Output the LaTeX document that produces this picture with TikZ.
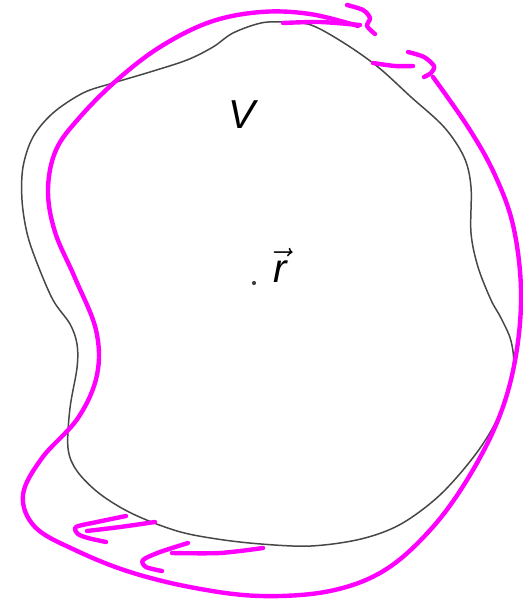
\documentclass[tikz,border=0pt]{standalone}
\usepackage{fontspec}
\newfontfamily\labelfont{Liberation Sans}
\definecolor{inkpink}{RGB}{255,0,255}
\begin{document}
\begin{tikzpicture}[x=0.02cm,y=-0.02cm,
    surface/.style={draw=black!72,line width=0.85pt},
    pen/.style={draw=inkpink,line width=2.5pt,line cap=round,line join=round}]
  \useasboundingbox (0,0) rectangle (522,602);

  % Volume

  \draw[surface] plot[smooth cycle,tension=0.55] coordinates {
    (261,23) (284,22) (311,25) (344,43) (378,67) (411,97) (444,127) (464,157)
    (471,187) (471,233) (478,267) (491,300) (501,318) (511,341) (513,368)
    (501,411) (478,451) (441,494) (401,524) (361,539) (311,546) (261,544)
    (217,539) (177,531) (133,514) (100,494) (77,471) (68,448) (70,408)
    (77,368) (77,344) (70,324) (53,300) (37,263) (27,233) (22,200) (23,167)
    (33,137) (53,113) (83,93) (113,83) (150,72) (187,60) (213,47) (233,33)};

  \node[font=\labelfont\itshape\fontsize{23}{26}\selectfont,anchor=base] (vol) at (242,128) {V};

  \fill[black!75] (254,283) circle (2.1);
  \node[font=\labelfont\itshape\fontsize{23}{26}\selectfont,anchor=base] (pos) at (280,282) {$\vec{\hbox{\labelfont\itshape r}}$};

  % Loop

  \draw[pen] plot[smooth,tension=0.6] coordinates {
    (433,77) (468,127) (494,173) (513,225) (521,290) (516,355) (500,415)
    (470,475) (432,528) (385,570) (330,591) (261,596) (195,588) (130,572)
    (75,550) (35,527) (23,495) (42,458) (78,418) (97,375) (96,330)
    (75,278) (55,232) (48,190) (56,150) (80,117) (117,80) (160,47)
    (210,22) (261,12) (310,14) (358,26)};

  % arrows on the loop
  \draw[pen] plot[smooth] coordinates {(283,23) (320,22) (360,25)};
  \draw[pen] plot[smooth] coordinates {(347,5) (363,10) (370,18) (367,26) (375,34)};

  \draw[pen] plot[smooth] coordinates {(373,63) (395,66) (413,66)};
  \draw[pen] plot[smooth] coordinates {(408,52) (424,57) (434,66) (431,73) (424,77)};

  \draw[pen] plot[smooth] coordinates {(155,522) (120,527) (87,531)};
  \draw[pen] plot[smooth] coordinates {(126,516) (97,522) (76,527) (78,534) (88,538) (106,542)};

  \draw[pen] plot[smooth] coordinates {(263,548) (220,553) (172,553)};
  \draw[pen] plot[smooth] coordinates {(188,543) (160,552) (143,560) (146,567) (162,571)};

\end{tikzpicture}
\end{document}
